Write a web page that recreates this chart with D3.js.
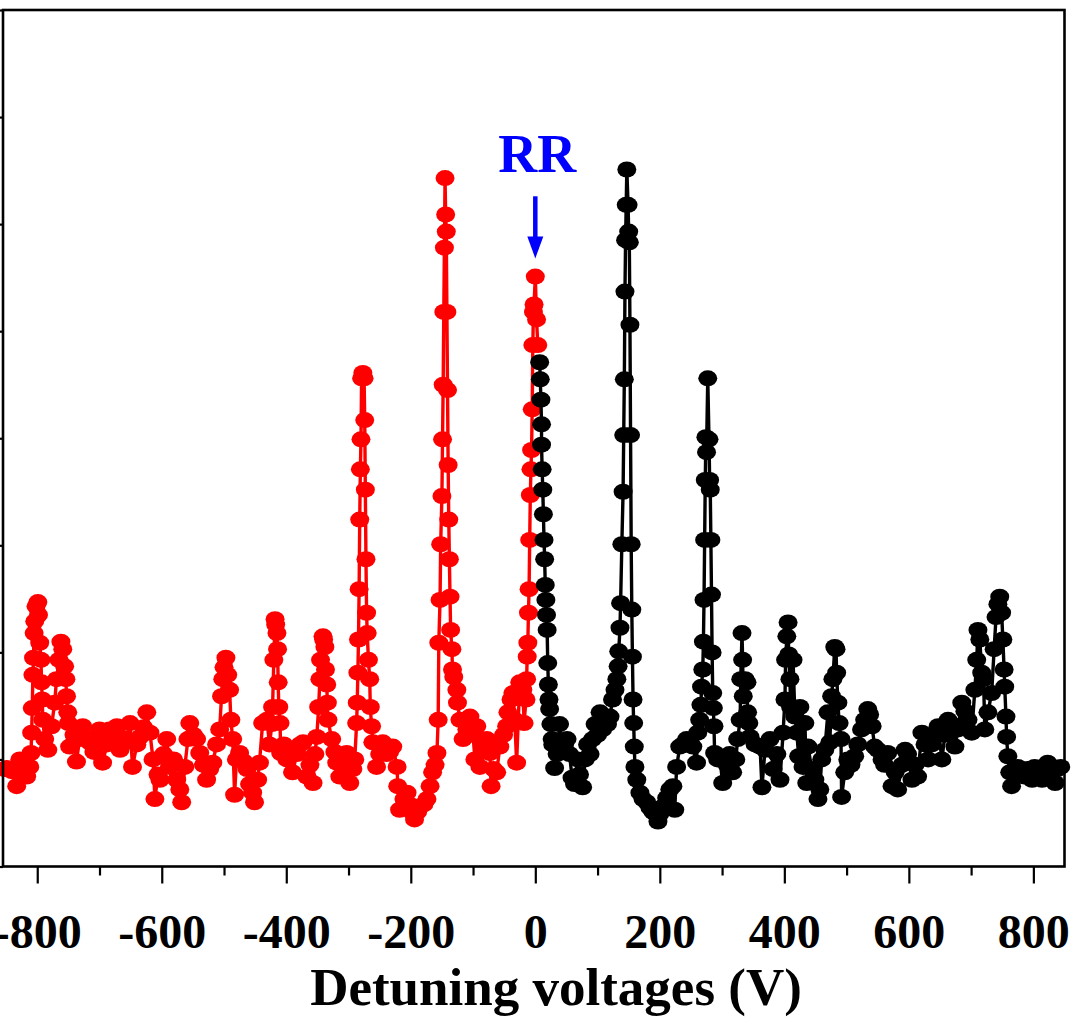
<!DOCTYPE html>
<html><head><meta charset="utf-8">
<script src="https://cdn.jsdelivr.net/npm/d3@7"></script>
<style>body{margin:0;background:#fff}svg{display:block}</style>
</head><body><div id="chart"></div>
<script>
// ---- data (voltage in V, intensity in a.u.) ----
const redVoltage = [-852,-849,-841,-833,-828,-822,-817,-812,-810,-809,-808,-807,-806,-805,-804,-802,-799,-798,-796,-794,-793,-792,-791,-788,-783,-777,-772,-769,-765,-762,-759,-756,-754,-753,-751,-750,-748,-741,-737,-732,-727,-720,-716,-709,-704,-700,-695,-688,-684,-677,-672,-667,-661,-656,-651,-647,-640,-635,-629,-624,-619,-614,-611,-606,-603,-597,-592,-587,-581,-576,-571,-568,-563,-558,-555,-549,-544,-539,-533,-528,-523,-518,-512,-507,-504,-502,-500,-497,-494,-491,-489,-486,-483,-480,-475,-468,-463,-459,-454,-451,-446,-443,-438,-431,-427,-423,-422,-420,-418,-417,-415,-414,-413,-412,-410,-409,-404,-399,-394,-390,-383,-378,-373,-367,-362,-357,-354,-351,-348,-346,-345,-341,-340,-338,-337,-335,-334,-333,-327,-322,-319,-314,-308,-303,-298,-293,-290,-287,-286,-285,-284,-283,-282,-281,-280,-279,-277,-275,-274,-273,-272,-271,-270,-268,-266,-265,-263,-261,-255,-250,-245,-239,-234,-229,-222,-221,-218,-211,-206,-202,-197,-194,-189,-186,-179,-174,-169,-165,-161,-158,-156,-155,-153,-152,-150,-149,-148,-147,-146,-145,-144,-143,-142,-141,-140,-139,-138,-137,-136,-134,-133,-131,-126,-125,-121,-116,-110,-105,-100,-97,-94,-89,-84,-78,-73,-71,-67,-62,-57,-51,-46,-44,-39,-36,-33,-30,-25,-20,-18,-15,-14,-13,-12,-11,-10,-9,-8,-7,-6,-5,-4,-3,-2,0,2,4];
const redIntensity = [91,92,89,75,100,89,84,93,106,125,148,179,195,218,229,243,247,235,209,193,172,156,137,119,109,131,153,175,193,210,203,187,175,159,144,134,112,123,98,119,131,120,116,107,119,128,97,114,128,119,131,109,120,117,134,93,114,121,130,144,125,100,63,86,81,105,119,93,100,81,72,60,93,119,134,123,119,106,95,81,91,97,114,128,159,175,186,195,179,165,137,119,67,100,106,98,91,77,69,60,81,97,134,137,114,133,149,193,231,226,218,203,172,149,134,106,114,100,109,88,105,114,116,84,95,78,105,121,149,175,193,215,212,205,184,170,153,137,119,107,97,84,95,106,78,91,100,134,153,181,212,259,324,371,399,456,461,456,417,352,287,237,218,193,175,149,131,116,93,105,116,105,107,112,93,75,53,63,69,58,50,44,51,56,58,63,75,88,95,106,137,209,249,301,346,399,450,518,578,643,609,593,518,445,375,324,287,252,221,203,184,177,165,153,137,119,128,140,123,100,131,93,109,119,106,75,91,88,112,123,131,144,156,162,137,97,172,165,134,156,175,196,209,237,259,305,347,371,389,427,487,518,525,551,511,487];

const blackVoltage = [7,8,9,10,10,11,12,13,14,15,16,17,18,19,20,21,22,23,25,27,28,31,35,39,43,47,51,55,59,63,68,71,76,80,84,88,92,96,100,104,108,112,116,120,124,128,131,133,134,136,137,139,141,142,143,144,145,146,147,149,150,151,152,153,154,155,156,157,158,159,160,163,168,173,179,184,189,192,197,200,205,211,216,221,224,227,232,237,243,248,253,259,261,264,266,267,269,270,271,272,273,274,275,277,279,280,281,282,283,284,285,286,287,288,293,296,301,308,312,317,322,325,329,330,332,333,334,337,340,341,343,345,353,361,364,369,377,382,388,393,398,401,402,404,406,407,409,410,414,417,420,423,425,430,433,436,438,444,449,454,457,460,465,470,473,476,478,481,483,484,486,488,491,492,497,502,507,513,518,524,529,534,537,541,545,550,557,561,566,573,578,582,589,594,598,605,610,614,621,626,631,637,642,647,653,658,663,669,674,679,685,690,695,701,706,709,711,714,717,720,722,727,733,737,740,743,746,749,751,753,754,756,757,759,762,765,770,775,782,786,791,798,802,807,814,818,823,830,835,839,844];
const blackIntensity = [471,455,436,413,394,371,352,329,305,287,263,249,235,221,190,170,156,147,133,119,114,92,105,133,114,114,119,105,83,77,100,86,74,100,114,105,119,133,123,144,128,137,133,140,156,165,175,187,201,223,246,301,350,403,455,537,585,618,651,618,593,583,506,403,301,240,196,156,134,112,93,81,69,63,60,55,51,50,42,49,56,64,72,75,53,93,112,114,119,117,112,97,125,137,151,168,184,210,249,305,361,401,387,456,399,361,352,305,254,200,162,148,131,106,100,103,78,95,105,88,100,119,137,175,218,193,159,175,172,144,134,121,114,112,74,109,119,91,105,81,125,156,193,215,228,198,175,149,193,140,125,103,149,93,134,78,112,91,81,63,72,100,109,144,116,159,175,205,203,181,153,134,119,65,88,100,95,103,114,128,137,147,142,131,112,109,100,95,106,75,88,72,95,109,105,81,95,84,125,114,100,114,123,131,100,123,137,133,112,128,153,145,137,125,165,193,221,212,181,175,128,144,162,203,233,245,252,237,212,184,168,140,121,103,88,75,86,93,86,84,91,81,93,89,81,91,97,89,78,91,93];

const xMajorTicks = [-800,-600,-400,-200,0,200,400,600,800];
const xMinorTicks = [-700,-500,-300,-100,100,300,500,700];
const yTicks = [0,100,200,300,400,500,600,700,800];
const xTitle = "Detuning voltages (V)";
const annotationText = "RR";
const annotationAt = {voltage: 0, labelIntensity: 649, arrowStart: 626, arrowEnd: 568};

// ---- layout ----
const W = 1075, H = 1019;
const plot = {left: 3, right: 1064.5, top: 10, bottom: 866.5};
const svg = d3.select('#chart').append('svg').attr('width', W).attr('height', H);
const x = d3.scaleLinear().domain([-855, 850]).range([plot.left, plot.right]);
const y = d3.scaleLinear().domain([0, 800]).range([plot.bottom, plot.top]);
const font = '"Liberation Serif","Times New Roman",serif';

// axes
const gx = svg.append('g').attr('transform', `translate(0,${plot.bottom})`)
  .call(d3.axisBottom(x).tickValues(xMajorTicks).tickSize(17).tickPadding(0).tickFormat(d => String(d)));
gx.select('.domain').remove();
gx.selectAll('line').attr('stroke', '#000').attr('stroke-width', 2.2);
gx.selectAll('text').attr('y', 948 - plot.bottom).attr('dy', null)
  .attr('font-family', font).attr('font-weight', 'bold').attr('font-size', 48).attr('fill', '#000');
const gxm = svg.append('g').attr('transform', `translate(0,${plot.bottom})`)
  .call(d3.axisBottom(x).tickValues(xMinorTicks).tickSize(9).tickFormat(''));
gxm.select('.domain').remove();
gxm.selectAll('line').attr('stroke', '#000').attr('stroke-width', 2.2);

const gy = svg.append('g').attr('transform', `translate(${plot.left},0)`)
  .call(d3.axisLeft(y).tickValues(yTicks).tickSize(10).tickFormat(''));
gy.select('.domain').remove();
gy.selectAll('line').attr('stroke', '#000').attr('stroke-width', 2.2);

// data series
function drawSeries(vx, vy, color) {
  const pts = vx.map((v, i) => [v, vy[i]]);
  svg.append('path').datum(pts)
    .attr('fill', 'none').attr('stroke', color).attr('stroke-width', 3.4).attr('stroke-linejoin', 'round')
    .attr('d', d3.line().x(d => x(d[0])).y(d => y(d[1])));
  svg.append('g').selectAll('ellipse').data(pts).join('ellipse')
    .attr('cx', d => x(d[0])).attr('cy', d => y(d[1]))
    .attr('rx', 9.5).attr('ry', 8).attr('fill', color);
}
drawSeries(redVoltage, redIntensity, '#ff0000');
drawSeries(blackVoltage, blackIntensity, '#000000');

// frame
svg.append('rect').attr('x', plot.left).attr('y', plot.top)
  .attr('width', plot.right - plot.left).attr('height', plot.bottom - plot.top)
  .attr('fill', 'none').attr('stroke', '#000').attr('stroke-width', 2.6);

// annotation
const ax = x(annotationAt.voltage);
svg.append('text').attr('x', ax + 2).attr('y', y(annotationAt.labelIntensity))
  .attr('text-anchor', 'middle').attr('font-family', font).attr('font-weight', 'bold')
  .attr('font-size', 54).attr('fill', '#0000ff').text(annotationText);
const y0 = y(annotationAt.arrowStart), y1 = y(annotationAt.arrowEnd);
svg.append('line').attr('x1', ax).attr('x2', ax).attr('y1', y0).attr('y2', y1 - 18)
  .attr('stroke', '#0000ff').attr('stroke-width', 4.5);
svg.append('path').attr('fill', '#0000ff')
  .attr('d', `M${ax - 8},${y1 - 22} L${ax + 8},${y1 - 22} L${ax},${y1} Z`);

// title
svg.append('text').attr('x', 556).attr('y', 1005).attr('text-anchor', 'middle')
  .attr('font-family', font).attr('font-weight', 'bold').attr('font-size', 53).attr('fill', '#000')
  .text(xTitle);
</script>
</body></html>
